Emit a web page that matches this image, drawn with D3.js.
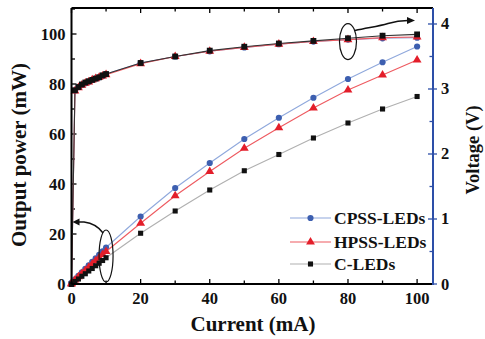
<!DOCTYPE html>
<html><head><meta charset="utf-8">
<script src="https://cdn.jsdelivr.net/npm/d3@7"></script>
<style>html,body{margin:0;padding:0;background:#fff;}svg{display:block;}</style>
</head><body>
<svg id="chart" width="485" height="339"></svg>
<script>
const current = [0,1,2,3,4,5,6,7,8,9,10,20,30,40,50,60,70,80,90,100];
const powerCPSS = [0.5,1.9,3.3,4.7,6.1,7.5,8.9,10.3,11.7,13.1,14.6,27,38.4,48.4,58,66.5,74.5,82,88.7,95];
const powerHPSS = [0.3,1.6,2.9,4.2,5.4,6.7,8.0,9.3,10.5,11.8,13.0,24.3,35.3,45,54.3,62.5,70.4,77.6,83.6,89.6];
const powerC = [0,1,2,3.1,4.1,5.2,6.2,7.3,8.3,9.4,10.5,20.3,29.2,37.6,45.3,51.8,58.4,64.4,70,75];
const voltCPSS = [0,2.98,3.03,3.06,3.09,3.11,3.14,3.16,3.18,3.20,3.23,3.40,3.50,3.58,3.64,3.69,3.73,3.76,3.78,3.79];
const voltHPSS = [0,2.97,3.02,3.06,3.09,3.11,3.14,3.16,3.18,3.20,3.22,3.39,3.50,3.58,3.64,3.69,3.73,3.76,3.79,3.80];
const voltC = [0,2.98,3.03,3.07,3.10,3.12,3.14,3.16,3.18,3.21,3.23,3.40,3.50,3.59,3.65,3.70,3.74,3.78,3.82,3.84];
const seriesNames = ["CPSS-LEDs","HPSS-LEDs","C-LEDs"];
const xTicks = [0,20,40,60,80,100];
const yLTicks = [0,20,40,60,80,100];
const yRTicks = [0,1,2,3,4];

const svg = d3.select("#chart");
const L = 71.5, R = 433, T = 8, B = 284;
const x = d3.scaleLinear().domain([0,104.6]).range([L,R]);
const yL = d3.scaleLinear().domain([0,110.4]).range([B,T]);
const yR = d3.scaleLinear().domain([0,4.246]).range([B,T]);
const font = "'Liberation Serif','Times New Roman',serif";

const styles = [
  {line:"#8fa8dc", mark:"#3d5fb0", shape:d3.symbolCircle, size:30},
  {line:"#ee5a60", mark:"#e31e2a", shape:d3.symbolTriangle, size:34},
  {line:"#b0b0b0", mark:"#111", shape:d3.symbolSquare, size:26}
];
const powers = [powerCPSS, powerHPSS, powerC];
const volts = [voltCPSS, voltHPSS, voltC];

// ticks (inward)
const g = svg.append("g");
d3.range(0,105,10).forEach(v=>{
  const len = v%20===0 ? 5 : 3.5;
  g.append("line").attr("x1",x(v)).attr("x2",x(v)).attr("y1",B).attr("y2",B-len).attr("stroke","#000").attr("stroke-width",1.3);
  g.append("line").attr("x1",x(v)).attr("x2",x(v)).attr("y1",T).attr("y2",T+len).attr("stroke","#000").attr("stroke-width",1.3);
});
d3.range(0,111,10).forEach(v=>{
  const len = v%20===0 ? 5 : 3.5;
  g.append("line").attr("x1",L).attr("x2",L+len).attr("y1",yL(v)).attr("y2",yL(v)).attr("stroke","#000").attr("stroke-width",1.3);
});
d3.range(0,4.3,0.5).forEach(v=>{
  const major = Math.abs(v-Math.round(v))<1e-6;
  g.append("line").attr("x1",R-(major?5:3.5)).attr("x2",R+(major?4:0)).attr("y1",yR(v)).attr("y2",yR(v)).attr("stroke","#2d4fa8").attr("stroke-width",1.3);
});

// data lines & markers
const lineGen = (vals, sc) => d3.line().x((d,i)=>x(current[i])).y(d=>sc(d))(vals);
function drawSeries(vals, sc, s){
  svg.append("path").attr("d",lineGen(vals,sc)).attr("fill","none").attr("stroke",s.line).attr("stroke-width",1.1);
  svg.append("g").selectAll("path").data(vals).join("path")
    .attr("transform",(d,i)=>`translate(${x(current[i])},${sc(d)})`)
    .attr("d",d3.symbol().type(s.shape).size(s.size)).attr("fill",s.mark);
}
[0,1,2].forEach(i=>{
  svg.append("path").attr("d",lineGen(volts[i],yR)).attr("fill","none").attr("stroke",i===2?"#333":styles[i].line).attr("stroke-width",1.1);
});
[0,1,2].forEach(i=>{
  svg.append("g").selectAll("path").data(volts[i]).join("path")
    .attr("transform",(d,j)=>`translate(${x(current[j])},${yR(d)})`)
    .attr("d",d3.symbol().type(styles[i].shape).size(styles[i].size+(i===2?8:0))).attr("fill",styles[i].mark);
});
[0,1,2].forEach(i=>drawSeries(powers[i], yL, styles[i]));

// frame
svg.append("line").attr("x1",L).attr("x2",L).attr("y1",T).attr("y2",B).attr("stroke","#000").attr("stroke-width",2);
svg.append("line").attr("x1",L).attr("x2",R).attr("y1",B).attr("y2",B).attr("stroke","#000").attr("stroke-width",2);
svg.append("line").attr("x1",L).attr("x2",R).attr("y1",T).attr("y2",T).attr("stroke","#000").attr("stroke-width",2);
svg.append("line").attr("x1",R).attr("x2",R).attr("y1",T).attr("y2",B+1).attr("stroke","#2d4fa8").attr("stroke-width",2);

// tick labels
const tl = svg.append("g").attr("font-family",font).attr("font-weight","bold").attr("font-size",16.5).attr("fill","#111");
xTicks.forEach(v=>tl.append("text").attr("x",x(v)).attr("y",B+20).attr("text-anchor","middle").text(v));
yLTicks.forEach(v=>tl.append("text").attr("x",L-6).attr("y",yL(v)+5.5).attr("text-anchor","end").text(v));
yRTicks.forEach(v=>tl.append("text").attr("x",R+8).attr("y",yR(v)+5.5).attr("text-anchor","start").text(v));

// axis titles
const at = svg.append("g").attr("font-family",font).attr("font-weight","bold").attr("font-size",21).attr("fill","#111");
at.append("text").attr("x",253).attr("y",331).attr("text-anchor","middle").text("Current (mA)");
at.append("text").attr("transform",`translate(26,155) rotate(-90)`).attr("text-anchor","middle").text("Output power (mW)");
at.append("text").attr("transform",`translate(479,150) rotate(-90)`).attr("text-anchor","middle").attr("font-size",18.5).text("Voltage (V)");

// annotations
const e1x = x(10), e1y = yL(11.2);
svg.append("ellipse").attr("cx",e1x).attr("cy",e1y).attr("rx",7).attr("ry",26).attr("fill","none").attr("stroke","#111").attr("stroke-width",1.2);
svg.append("path").attr("d",`M${e1x-3},${e1y-23} C${e1x-8},${e1y-30} ${e1x-14},${e1y-33} ${e1x-22},${e1y-34} L${L+6},${e1y-34}`).attr("fill","none").attr("stroke","#111").attr("stroke-width",1.4);
svg.append("path").attr("d",`M${L+1},${e1y-34} l7,-3.5 l0,7 z`).attr("fill","#111");

const e2x = x(80), e2y = yR(3.73);
svg.append("ellipse").attr("cx",e2x).attr("cy",e2y).attr("rx",8.5).attr("ry",18).attr("fill","none").attr("stroke","#111").attr("stroke-width",1.2);
svg.append("path").attr("d",`M${e2x+7},${e2y-11} C${e2x+20},${e2y-14} ${e2x+30},${e2y-15} ${e2x+40},${e2y-18} S${e2x+55},${e2y-21} ${e2x+60},${e2y-21}`).attr("fill","none").attr("stroke","#111").attr("stroke-width",1.4);
svg.append("path").attr("d",`M${e2x+67},${e2y-21} l-8,-3.5 l0,7 z`).attr("fill","#111");

// legend
const lg = svg.append("g");
const legY = [218,242,264];
[0,1,2].forEach(i=>{
  const s = styles[i];
  lg.append("line").attr("x1",290).attr("x2",331).attr("y1",legY[i]).attr("y2",legY[i]).attr("stroke",s.line).attr("stroke-width",1.2);
  lg.append("path").attr("transform",`translate(310.5,${legY[i]})`).attr("d",d3.symbol().type(s.shape).size(s.size)).attr("fill",s.mark);
  lg.append("text").attr("x",334).attr("y",legY[i]+6).attr("font-family",font).attr("font-weight","bold").attr("font-size",17.5).attr("fill","#111").text(seriesNames[i]);
});
</script>
</body></html>
